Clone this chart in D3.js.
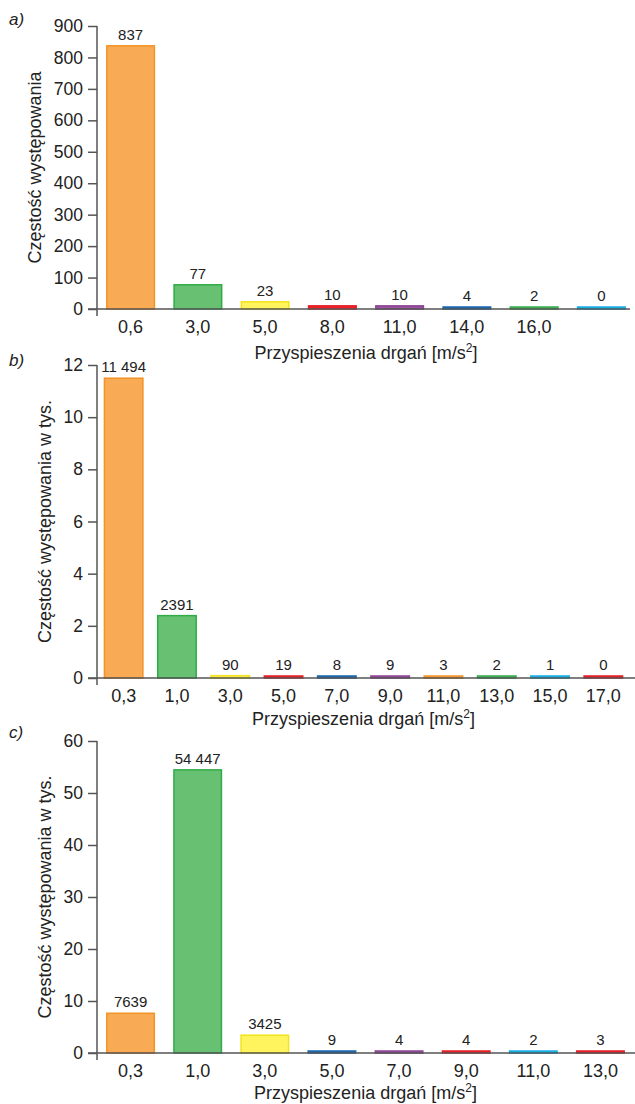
<!DOCTYPE html>
<html>
<head>
<meta charset="utf-8">
<script src="https://cdn.jsdelivr.net/npm/d3@7"></script>
<style>
  body { margin: 0; background: #fff; }
  svg { display: block; font-family: "Liberation Sans", Arial, sans-serif; }
</style>
</head>
<body>
<svg id="chart" width="635" height="1104"></svg>
<script>
// ---- data ----
const catsA = ["0,6", "3,0", "5,0", "8,0", "11,0", "14,0", "16,0", ""];
const valsA = [837, 77, 23, 10, 10, 4, 2, 0];
const colsA = ["orange", "green", "yellow", "red", "purple", "blue", "green", "cyan"];
const ticksA = [0, 100, 200, 300, 400, 500, 600, 700, 800, 900];

const catsB = ["0,3", "1,0", "3,0", "5,0", "7,0", "9,0", "11,0", "13,0", "15,0", "17,0"];
const valsB = [11494, 2391, 90, 19, 8, 9, 3, 2, 1, 0];
const colsB = ["orange", "green", "yellow", "red", "blue", "purple", "orange", "green", "cyan", "red"];
const ticksB = [0, 2, 4, 6, 8, 10, 12];

const catsC = ["0,3", "1,0", "3,0", "5,0", "7,0", "9,0", "11,0", "13,0"];
const valsC = [7639, 54447, 3425, 9, 4, 4, 2, 3];
const colsC = ["orange", "green", "yellow", "blue", "purple", "red", "cyan", "red"];
const ticksC = [0, 10, 20, 30, 40, 50, 60];

const palette = {
  orange: { fill: "#f8aa55", stroke: "#f39325" },
  green: { fill: "#68c173", stroke: "#2fab48" },
  yellow: { fill: "#fff45e", stroke: "#f3e21e" },
  red: { fill: "#ee2229", stroke: "#e81c23" },
  purple: { fill: "#9b55a1", stroke: "#8d4393" },
  blue: { fill: "#1f6db3", stroke: "#1a66ad" },
  cyan: { fill: "#1db4e8", stroke: "#14aee4" }
};

const svg = d3.select("#chart");

// Polish style: 4-digit numbers without separator, larger ones with a space
function fmtValue(v) {
  if (v < 10000) return String(v);
  return d3.format(",")(v).replace(/,/g, " ");
}

function drawPanel(cfg) {
  const g = svg.append("g");
  const { cats, vals, cols, ticks, top, bottom, xRange, yMax, div, label, labelY,
          yTitle, yTitleX, baseEnd, titleDy } = cfg;

  const x = d3.scaleBand()
    .domain(d3.range(cats.length))
    .range(xRange)
    .paddingInner(cfg.pad)
    .paddingOuter(cfg.pad / 2);
  const y = d3.scaleLinear().domain([0, yMax]).range([bottom, top]);

  const barTop = (d) => Math.min(y(d / div), bottom - 2);

  // panel letter
  g.append("text")
    .attr("x", 9)
    .attr("y", labelY)
    .attr("font-size", 17)
    .attr("font-style", "italic")
    .attr("fill", "#222")
    .text(label);

  // bars
  g.selectAll("rect.bar")
    .data(vals)
    .enter()
    .append("rect")
    .attr("class", "bar")
    .attr("x", (d, i) => x(i) + 0.75)
    .attr("width", x.bandwidth() - 1.5)
    .attr("y", barTop)
    .attr("height", (d) => bottom - barTop(d))
    .attr("fill", (d, i) => palette[cols[i]].fill)
    .attr("stroke", (d, i) => palette[cols[i]].stroke)
    .attr("stroke-width", 1.5);

  // value labels
  g.selectAll("text.val")
    .data(vals)
    .enter()
    .append("text")
    .attr("class", "val")
    .attr("x", (d, i) => x(i) + x.bandwidth() / 2)
    .attr("y", (d) => barTop(d) - 6)
    .attr("text-anchor", "middle")
    .attr("font-size", 15)
    .attr("fill", "#222")
    .text((d) => fmtValue(d));

  // baseline
  g.append("line")
    .attr("x1", xRange[0] - 9)
    .attr("x2", baseEnd)
    .attr("y1", bottom)
    .attr("y2", bottom)
    .attr("stroke", "#555")
    .attr("stroke-width", 1.5);

  // y axis
  const yAxis = g.append("g")
    .attr("transform", `translate(${xRange[0]},0)`)
    .call(d3.axisLeft(y).tickValues(ticks).tickSize(9).tickPadding(5).tickSizeOuter(0));
  yAxis.select(".domain").remove();
  yAxis.selectAll(".tick line").attr("stroke", "#555").attr("stroke-width", 1.5);
  yAxis.selectAll(".tick text")
    .attr("font-size", 17.5)
    .attr("font-family", "Liberation Sans, Arial, sans-serif")
    .attr("fill", "#222");
  yAxis.append("line")
    .attr("x1", 0).attr("x2", 0)
    .attr("y1", top).attr("y2", bottom + 7)
    .attr("stroke", "#555")
    .attr("stroke-width", 1.5);

  // x tick labels
  g.selectAll("text.xt")
    .data(cats)
    .enter()
    .append("text")
    .attr("class", "xt")
    .attr("x", (d, i) => x(i) + x.bandwidth() / 2)
    .attr("y", bottom + 23.5)
    .attr("text-anchor", "middle")
    .attr("font-size", 18)
    .attr("fill", "#222")
    .text((d) => d);

  // x title with superscript
  const t = g.append("text")
    .attr("x", (xRange[0] + xRange[1]) / 2)
    .attr("y", bottom + titleDy)
    .attr("text-anchor", "middle")
    .attr("font-size", 18)
    .attr("fill", "#222");
  t.append("tspan").text("Przyspieszenia drgań [m/s");
  t.append("tspan").attr("baseline-shift", "super").attr("font-size", 12).text("2");
  t.append("tspan").text("]");

  // y title
  g.append("text")
    .attr("transform", `translate(${yTitleX},${(top + bottom) / 2}) rotate(-90)`)
    .attr("text-anchor", "middle")
    .attr("dy", "0.35em")
    .attr("font-size", 18)
    .attr("fill", "#222")
    .text(yTitle);
}

drawPanel({
  cats: catsA, vals: valsA, cols: colsA, ticks: ticksA,
  top: 26, bottom: 309, xRange: [97, 635], baseEnd: 630, pad: 0.27,
  yMax: 900, div: 1, label: "a)", labelY: 25, titleDy: 49.5,
  yTitle: "Częstość występowania", yTitleX: 35
});

drawPanel({
  cats: catsB, vals: valsB, cols: colsB, ticks: ticksB,
  top: 365, bottom: 678, xRange: [97, 630], baseEnd: 635, pad: 0.25,
  yMax: 12, div: 1000, label: "b)", labelY: 366, titleDy: 46.5,
  yTitle: "Częstość występowania w tys.", yTitleX: 45
});

drawPanel({
  cats: catsC, vals: valsC, cols: colsC, ticks: ticksC,
  top: 741, bottom: 1053, xRange: [97, 634], baseEnd: 635, pad: 0.27,
  yMax: 60, div: 1000, label: "c)", labelY: 738, titleDy: 45.5,
  yTitle: "Częstość występowania w tys.", yTitleX: 45
});
</script>
</body>
</html>
